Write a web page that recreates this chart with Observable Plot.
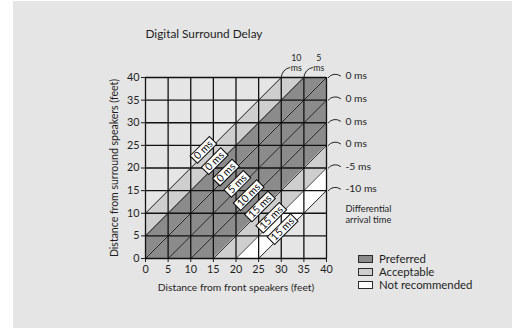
<!DOCTYPE html>
<html>
<head>
<meta charset="utf-8">
<script src="https://cdn.jsdelivr.net/npm/d3@7"></script>
<script src="https://cdn.jsdelivr.net/npm/@observablehq/plot@0.6"></script>
<style>
  html, body { margin: 0; padding: 0; background: #ffffff; }
  body { width: 525px; height: 329px; position: relative; overflow: hidden; font-family: Lato, "Noto Sans", sans-serif; color: #1e1e1e; }
  #panel { position: absolute; left: 13px; top: 1px; width: 499px; height: 327px; background: #e5e5e5; }
  #chart { position: absolute; left: 0; top: 0; }
  #legend { position: absolute; left: 358px; top: 252.5px; font-size: 11.4px; }
  .item { display: flex; align-items: center; height: 13px; line-height: 1; }
  .sw { width: 13px; height: 6px; border: 1px solid #2a2a2a; margin-right: 6px; }
</style>
</head>
<body>
<div id="panel"></div>
<div id="chart"></div>
<div id="legend"></div>
<script>
// ---- data ----
const gridTicks = [0, 5, 10, 15, 20, 25, 30, 35, 40];
// diagonal bands: front − surround distance from bandStarts[i] to bandStarts[i] + 5 feet
const bandStarts = [-10, -5, 0, 5, 10, 15, 20];
const bandRatings = ["Acceptable", "Preferred", "Preferred", "Preferred", "Preferred", "Acceptable", "Not recommended"];
// diagonal lines (front − surround, feet) and their delay settings
const lineOffsets = [-10, -5, 0, 5, 10, 15, 20, 25];
const lineDelays = ["0 ms", "0 ms", "0 ms", "5 ms", "10 ms", "15 ms", "15 ms", "15 ms"];
// differential arrival time labels along the top and right edges
const topEdgeX = [30, 35];
const topEdgeLabels = ["10 ms", "5 ms"];
const rightEdgeY = [40, 35, 30, 25, 20, 15];
const rightEdgeLabels = ["0 ms", "0 ms", "0 ms", "0 ms", "-5 ms", "-10 ms"];
const ratings = ["Preferred", "Acceptable", "Not recommended"];
const ratingColors = ["#8b8b8b", "#cecece", "#ffffff"];

const title = "Digital Surround Delay";
const xLabel = "Distance from front speakers (feet)";
const yLabel = "Distance from surround speakers (feet)";
const noteLabel = "Differential\narrival time";

// ---- build band polygons as areas over the grid ----
const clamp = v => Math.max(0, Math.min(40, v));
const bandRows = [];
bandStarts.forEach((d, i) => {
  gridTicks.forEach(x => {
    bandRows.push({band: i, rating: bandRatings[i], x, y1: clamp(x - d - 5), y2: clamp(x - d)});
  });
});

// label centres along a line across the bands
const S = 36.8, shift = 1.2;
const labelRows = lineOffsets.map((d, i) => {
  const cx = (S + d - shift) / 2, cy = (S - d + shift) / 2;
  const text = lineDelays[i];
  const len = text.length * 5.6 + 6;             // box length in px
  const h = len / 2 / (4.525 * Math.SQRT2);       // half length in data units along the diagonal
  return {d, cx, cy, text, h};
});

const plot = Plot.plot({
  width: 525,
  height: 329,
  marginLeft: 145,
  marginRight: 199,
  marginTop: 77,
  marginBottom: 71,
  x: {domain: [0, 40], ticks: gridTicks, tickSize: 4, tickPadding: 3, label: null},
  y: {domain: [0, 40], ticks: gridTicks, tickSize: 4, tickPadding: 2, label: null},
  color: {domain: ratings, range: ratingColors},
  style: {background: "transparent", fontFamily: "Lato, 'Noto Sans', sans-serif", fontSize: "10.8px", color: "#1e1e1e", overflow: "visible"},
  marks: [
    Plot.areaY(bandRows, {x: "x", y1: "y1", y2: "y2", z: "band", fill: "rating", curve: "linear"}),
    Plot.link(lineOffsets, {
      x1: d => Math.max(0, d), y1: d => Math.max(0, -d),
      x2: d => Math.min(40, 40 + d), y2: d => Math.min(40, 40 - d),
      stroke: "#111", strokeWidth: 0.9
    }),
    Plot.ruleX(gridTicks, {y1: 0, y2: 40, stroke: "#111", strokeWidth: 1.3}),
    Plot.ruleY(gridTicks, {x1: 0, x2: 40, stroke: "#111", strokeWidth: 1.3}),
    // label boxes
    Plot.link(labelRows, {x1: r => r.cx - r.h, y1: r => r.cy - r.h, x2: r => r.cx + r.h, y2: r => r.cy + r.h,
      stroke: "#111", strokeWidth: 11.5, strokeLinecap: "butt"}),
    Plot.link(labelRows, {x1: r => r.cx - r.h + 0.17, y1: r => r.cy - r.h + 0.17, x2: r => r.cx + r.h - 0.17, y2: r => r.cy + r.h - 0.17,
      stroke: "#fff", strokeWidth: 9.4, strokeLinecap: "butt"}),
    Plot.text(labelRows, {x: "cx", y: "cy", text: "text", rotate: -45, fontSize: 10.5, fill: "#111"}),
    // right edge brackets and labels
    Plot.arrow(rightEdgeY, {x1: 40.4, y1: y => y, x2: 43.1, y2: y => y + 0.35, bend: 45, headLength: 0, stroke: "#222", strokeWidth: 1}),
    Plot.text(rightEdgeY, {x: 40, y: y => y, text: (y, i) => rightEdgeLabels[i], dx: 19, dy: -1.5, textAnchor: "start", fontSize: 10.3, fill: "#1e1e1e"}),
    Plot.text([noteLabel], {x: 40, y: 15, text: d => d, dx: 19, dy: 23.5, textAnchor: "start", lineAnchor: "middle", lineHeight: 1.15, fontSize: 9.3, fill: "#1e1e1e"}),
    // top edge brackets and labels
    Plot.arrow(topEdgeX, {x1: x => x, y1: 40, x2: x => x + 1.9, y2: 42.2, bend: 40, headLength: 0, stroke: "#222", strokeWidth: 1}),
    Plot.text(topEdgeX, {x: x => x, y: 40, text: (x, i) => topEdgeLabels[i].replace(" ", "\n"), dx: 15, dy: -14.7, lineAnchor: "middle", lineHeight: 1.1, fontSize: 8.8, fill: "#1e1e1e"}),
    // titles
    Plot.text([title], {frameAnchor: "top-left", text: d => d, dy: -43, textAnchor: "start", lineAnchor: "middle", fontSize: 11.8, fill: "#1e1e1e"}),
    Plot.text([xLabel], {frameAnchor: "bottom", text: d => d, dy: 29, textAnchor: "middle", lineAnchor: "middle", fontSize: 10.3, fill: "#1e1e1e"}),
    Plot.text([yLabel], {frameAnchor: "left", text: d => d, dx: -31, rotate: -90, textAnchor: "middle", lineAnchor: "middle", fontSize: 10.5, fill: "#1e1e1e"})
  ]
});
document.getElementById("chart").appendChild(plot);

// legend
const legend = document.getElementById("legend");
ratings.forEach((r, i) => {
  const item = document.createElement("div");
  item.className = "item";
  const sw = document.createElement("div");
  sw.className = "sw";
  sw.style.background = ratingColors[i];
  const t = document.createElement("span");
  t.textContent = r;
  item.appendChild(sw);
  item.appendChild(t);
  legend.appendChild(item);
});
</script>
</body>
</html>
